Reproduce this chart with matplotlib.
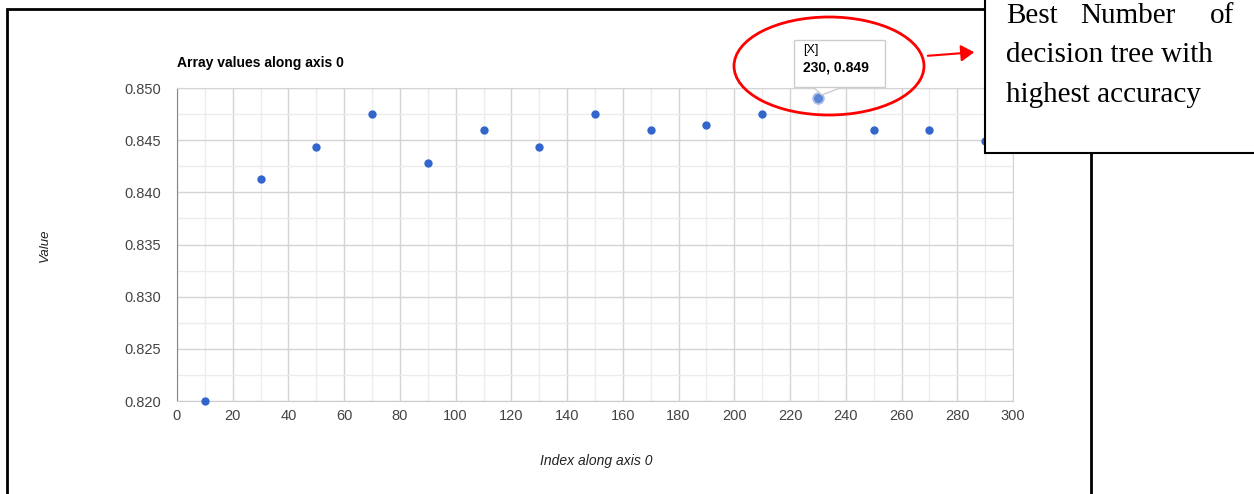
import numpy as np
import matplotlib.pyplot as plt
from matplotlib.patches import Rectangle, Ellipse, FancyArrowPatch, Polygon
from matplotlib.ticker import MultipleLocator

# number of decision trees vs accuracy
n_trees = [10, 30, 50, 70, 90, 110, 130, 150, 170, 190, 210, 230, 250, 270, 290]
accuracy = [0.8200, 0.8413, 0.8443, 0.8475, 0.8428, 0.8460, 0.8443, 0.8475,
            0.8460, 0.8465, 0.8475, 0.8490, 0.8460, 0.8460, 0.8449]

W, H = 1254, 494
fig = plt.figure(figsize=(W / 100, H / 100), dpi=100)


def px(x, y):
    # pixel position (top-left origin) -> figure fraction
    return x / W, 1 - y / H


# outer frame of the screenshot
fig.patches.append(Rectangle(px(7, 520), (1091 - 7) / W, (520 - 9) / H,
                             transform=fig.transFigure, fill=False,
                             edgecolor="black", lw=2, zorder=0))

l, b = px(177, 401)
r, t = px(1013, 88)
ax = fig.add_axes([l, b, r - l, t - b])

blue = "#3366cc"
ax.plot(n_trees, accuracy, "o", color=blue, ms=6, mec="none",
        clip_on=False, zorder=5)

best = int(np.argmax(accuracy))
ax.plot(n_trees[best], accuracy[best], "o", color="#a9bde8", ms=9,
        mec="none", clip_on=False, zorder=4)
ax.plot(n_trees[best], accuracy[best], "o", color="#5a84d6", ms=6,
        mec="none", clip_on=False, zorder=6)

ax.set_xlim(0, 300)
ax.set_ylim(0.820, 0.850)
ax.xaxis.set_major_locator(MultipleLocator(20))
ax.xaxis.set_minor_locator(MultipleLocator(10))
ax.yaxis.set_major_locator(MultipleLocator(0.005))
ax.yaxis.set_minor_locator(MultipleLocator(0.0025))
ax.yaxis.set_major_formatter(plt.FormatStrFormatter("%.3f"))
ax.grid(which="major", color="#d4d4d4", lw=1)
ax.grid(which="minor", color="#ececec", lw=1)
ax.set_axisbelow(True)
ax.tick_params(which="both", length=0, labelsize=10.5, labelcolor="#444444")
ax.tick_params(axis="y", pad=11.5)
ax.tick_params(axis="x", pad=6)
for lab in ax.get_xticklabels() + ax.get_yticklabels():
    lab.set_fontfamily("Liberation Sans")
for s in ["top", "right"]:
    ax.spines[s].set_color("#d4d4d4")
ax.spines["left"].set_color("#888888")
ax.spines["bottom"].set_color("#cccccc")

ax.set_title("Array values along axis 0", loc="left", fontsize=10,
             fontweight="bold", family="Liberation Sans", pad=15)
fig.text(*px(45, 245), "Value", rotation=90, style="italic", fontsize=9.5,
         family="Liberation Sans", color="#222222", ha="center", va="center")
fig.text(*px(596, 461), "Index along axis 0", style="italic", fontsize=10,
         family="Liberation Sans", color="#222222", ha="center", va="center")

# tooltip
fig.patches.append(Rectangle(px(794, 87), 91 / W, 47 / H,
                             transform=fig.transFigure, facecolor="white",
                             edgecolor="#cccccc", lw=1, zorder=10))
fig.patches.append(Polygon([px(812, 86), px(822, 95), px(845, 86)],
                           closed=True, transform=fig.transFigure,
                           facecolor="white", edgecolor="#cccccc", lw=1,
                           zorder=9))
fig.text(*px(803, 50), "[X]", fontsize=9, family="Liberation Sans",
         va="center", zorder=11)
fig.text(*px(803, 68), f"{n_trees[best]}, {accuracy[best]:.3f}",
         fontsize=10, fontweight="bold", family="Liberation Sans",
         va="center", zorder=11)

# red ellipse and arrow
fig.patches.append(Ellipse(px(829, 66), 190 / W, 98 / H,
                           transform=fig.transFigure, fill=False,
                           edgecolor="red", lw=2, zorder=12))
fig.patches.append(FancyArrowPatch(px(925, 56), px(977, 52),
                                   transform=fig.transFigure,
                                   arrowstyle="-|>,head_length=8,head_width=5",
                                   color="red", lw=1.5, zorder=12))

# annotation box
fig.patches.append(Rectangle(px(985, 153), 300 / W, 170 / H,
                             transform=fig.transFigure, facecolor="white",
                             edgecolor="black", lw=1.5, zorder=13))
serif = dict(fontsize=21, family="Liberation Serif", va="center", zorder=14)
fig.text(*px(1006, 16), "Best", ha="left", **serif)
fig.text(*px(1128, 16), "Number", ha="center", **serif)
fig.text(*px(1234, 16), "of", ha="right", **serif)
fig.text(*px(1006, 55), "decision tree with", ha="left", **serif)
fig.text(*px(1006, 95), "highest accuracy", ha="left", **serif)

fig.savefig("out.png", dpi=100)
